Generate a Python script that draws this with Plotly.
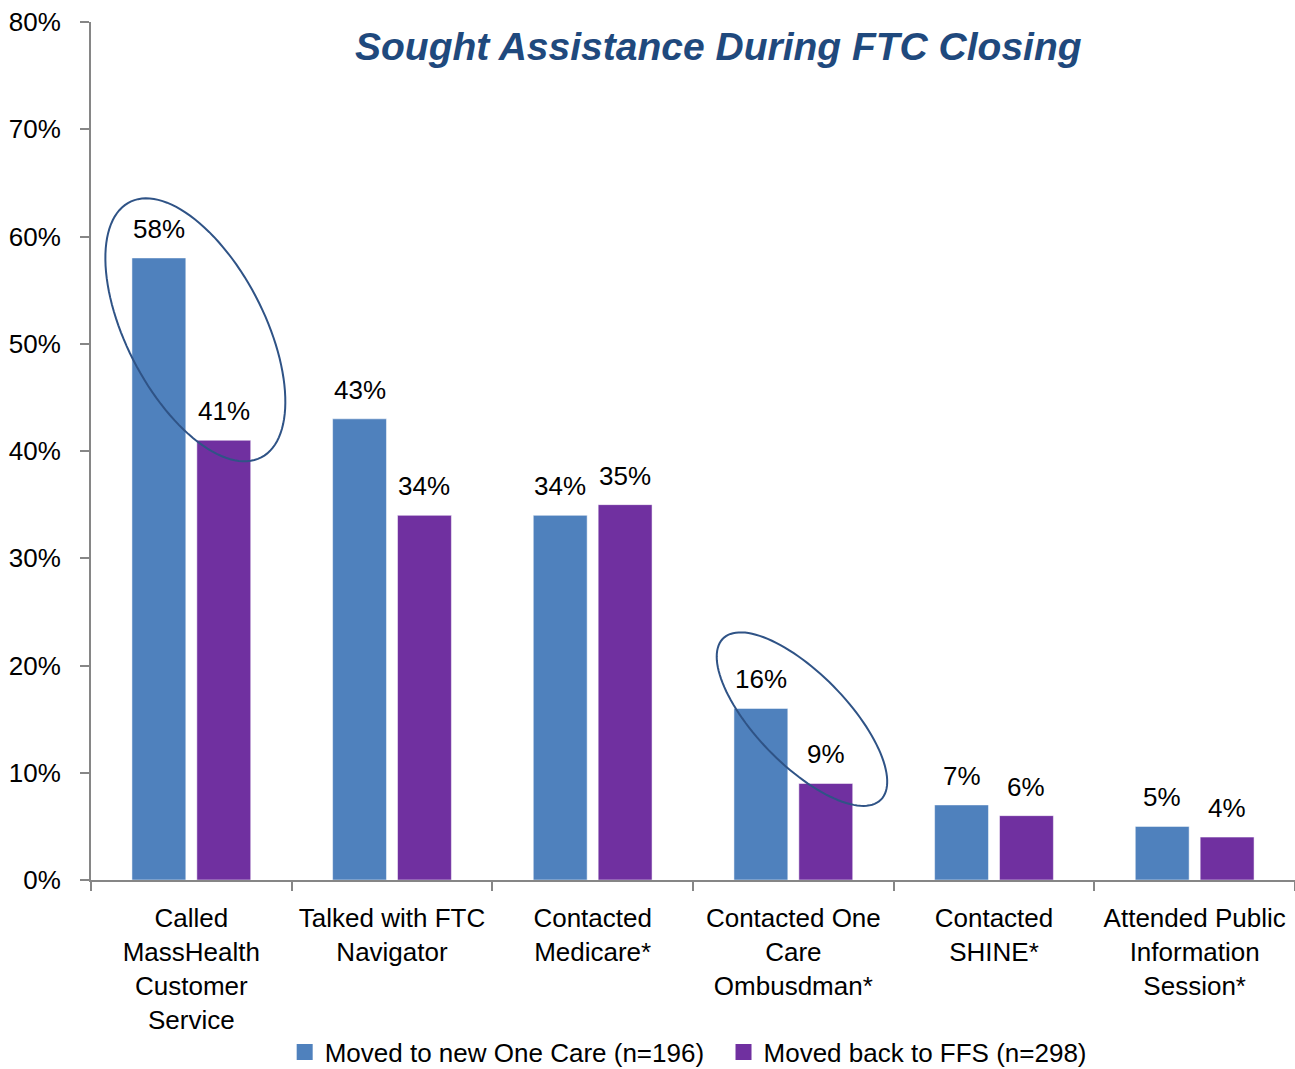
import numpy as np
import plotly.graph_objects as go

# ---------------- data ----------------
categories = [
    "Called<br>MassHealth<br>Customer<br>Service",
    "Talked with FTC<br>Navigator",
    "Contacted<br>Medicare*",
    "Contacted One<br>Care<br>Ombusdman*",
    "Contacted<br>SHINE*",
    "Attended Public<br>Information<br>Session*",
]
one_care_values = [58, 43, 34, 16, 7, 5]
ffs_values = [41, 34, 35, 9, 6, 4]
series_names = ["Moved to new One Care (n=196)", "Moved back to FFS (n=298)"]
y_tick_values = [0, 10, 20, 30, 40, 50, 60, 70, 80]
y_tick_labels = [f"{v}%" for v in y_tick_values]
title_text = "Sought Assistance During FTC Closing"

# ---------------- style ----------------
W, H = 1295, 1069
ML, MR, MT, MB = 91, 0, 22, 189
PW, PH = W - ML - MR, H - MT - MB
YMAX = 80
BARGAP = 0.353
GROUPGAP = 0.17
FONT = "Liberation Sans, Arial, sans-serif"
FS = 26
BLUE = "#4F81BD"
PURPLE = "#7030A0"
AXIS = "#868686"

fig = go.Figure()
for k, (name, vals, col) in enumerate([(series_names[0], one_care_values, BLUE),
                                       (series_names[1], ffs_values, PURPLE)]):
    fig.add_trace(go.Bar(
        x=categories, y=vals, name=name, showlegend=False,
        marker=dict(color=col, line=dict(color="rgba(255,255,255,0.5)", width=1)),
        hoverinfo="x+y",
    ))
    # legend entry with a larger square swatch (extra spacing after first item)
    fig.add_trace(go.Scatter(
        x=[None], y=[None], mode="markers",
        name=name + ("\u00a0\u00a0" if k == 0 else ""),
        marker=dict(symbol="square", size=17, color=col),
        showlegend=True,
    ))

# value labels above each bar
slot = (1 - BARGAP) / 2
for i in range(len(categories)):
    for vals, off in [(one_care_values, -slot / 2), (ffs_values, slot / 2)]:
        fig.add_annotation(
            x=i + off, y=vals[i], xref="x", yref="y",
            text=f"{vals[i]}%", showarrow=False,
            yanchor="bottom", yshift=12,
            font=dict(family=FONT, size=FS, color="black"),
        )

# highlight ellipses (center: category index offset, value; semi-axes px; angle deg)
def ellipse_path(cat_pos, val, a, b, theta_deg):
    cx = ML + (cat_pos + 0.5) * PW / len(categories)
    cy = MT + PH * (1 - val / YMAX)
    th = np.radians(theta_deg)
    t = np.linspace(0, 2 * np.pi, 120)
    px = cx + a * np.cos(th) * np.cos(t) - b * np.sin(th) * np.sin(t)
    py = cy + a * np.sin(th) * np.cos(t) + b * np.cos(th) * np.sin(t)
    xs = (px - ML) / PW
    ys = (MT + PH - py) / PH
    pts = [f"{x:.5f},{y:.5f}" for x, y in zip(xs, ys)]
    return "M" + " L".join(pts) + " Z"

for cat_pos, val, a, b, th in [(0.02, 51.3, 143.6, 69.0, 62.7),
                              (3.043, 15.0, 112.8, 45.5, 45.7)]:
    fig.add_shape(type="path", xref="paper", yref="paper",
                  path=ellipse_path(cat_pos, val, a, b, th),
                  line=dict(color="#2F5386", width=2), fillcolor="rgba(0,0,0,0)")

fig.add_annotation(
    xref="paper", yref="paper", x=(718 - ML) / PW, y=(MT + PH - 47) / PH,
    text=f"<b><i>{title_text}</i></b>", showarrow=False,
    xanchor="center", yanchor="middle",
    font=dict(family=FONT, size=39, color="#1F497D"),
)

fig.update_layout(
    width=W, height=H,
    margin=dict(l=ML, r=MR, t=MT, b=MB, autoexpand=False),
    paper_bgcolor="white", plot_bgcolor="white",
    barmode="group", bargap=BARGAP, bargroupgap=GROUPGAP,
    font=dict(family=FONT, size=FS, color="black"),
    showlegend=True,
    legend=dict(orientation="h", x=0.496, xanchor="center", y=-0.2005, yanchor="middle",
                font=dict(family=FONT, size=FS, color="black"),
                itemwidth=30, traceorder="normal", tracegroupgap=0),
)
fig.update_xaxes(
    type="category", showline=True, linecolor=AXIS, linewidth=2,
    ticks="outside", tickson="boundaries", ticklen=9, tickcolor=AXIS, tickwidth=2,
    showgrid=False, tickangle=0, automargin=False, ticklabelstandoff=14,
    tickfont=dict(family=FONT, size=FS, color="black"),
)
fig.update_yaxes(
    range=[0, YMAX], tickvals=y_tick_values, ticktext=y_tick_labels,
    showline=True, linecolor=AXIS, linewidth=2,
    ticks="outside", ticklen=9, tickcolor=AXIS, tickwidth=2,
    showgrid=False, zeroline=False, ticklabelstandoff=14, automargin=False,
    tickfont=dict(family=FONT, size=FS, color="black"),
)

fig.write_html("out.html",
               config={"displayModeBar": False},
               post_script="document.body.style.margin='0px';document.body.style.overflow='hidden';")
